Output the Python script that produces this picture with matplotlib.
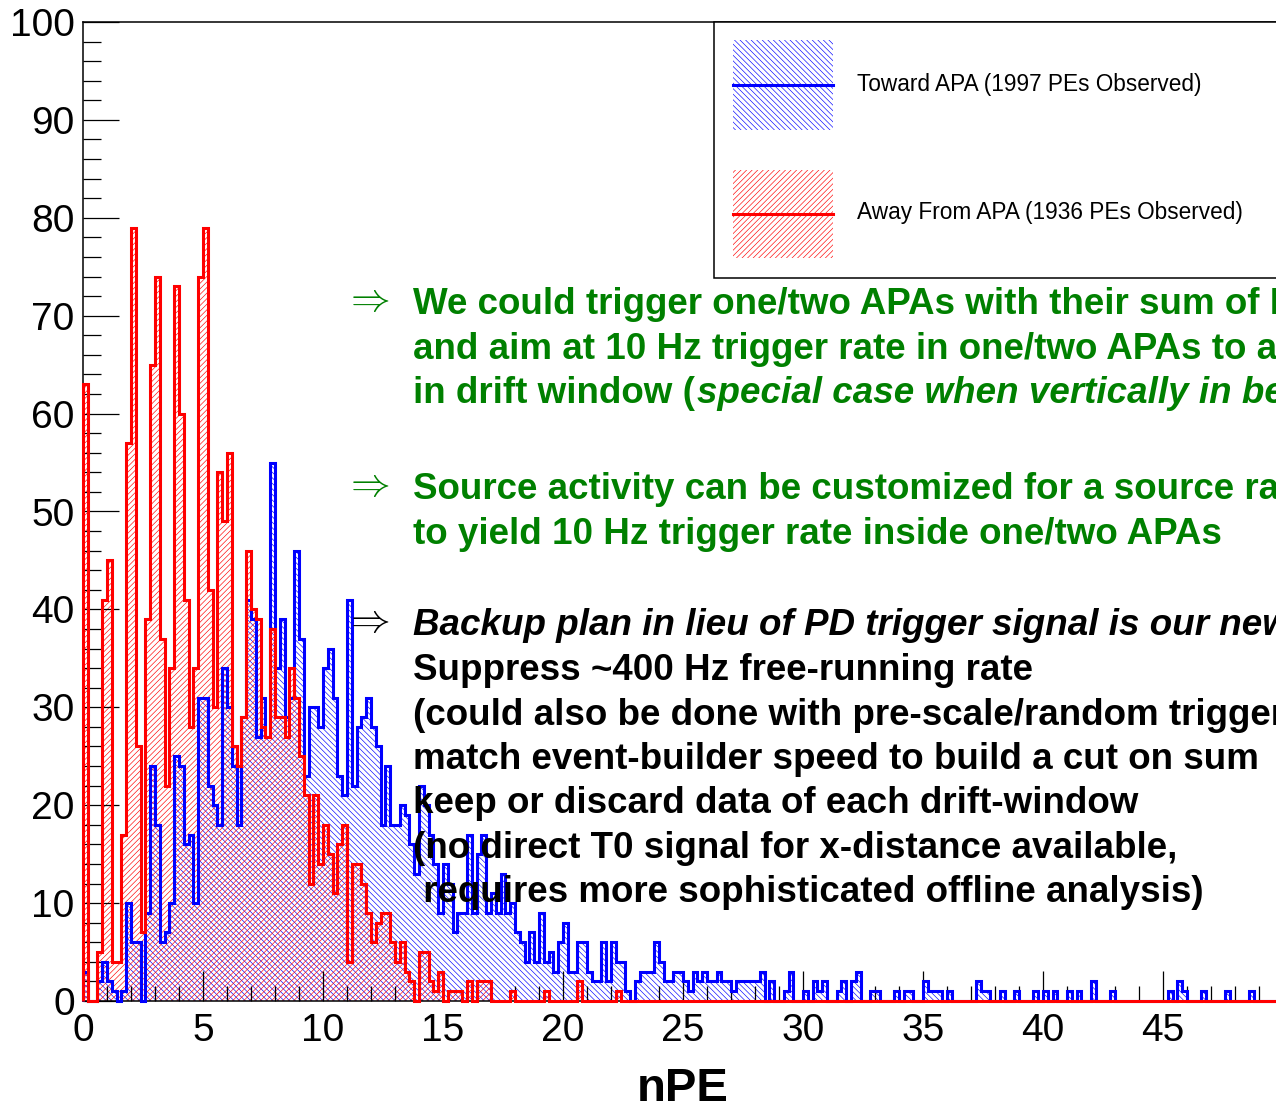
import numpy as np
import matplotlib
matplotlib.use("Agg")
import matplotlib.pyplot as plt
from matplotlib.patches import Rectangle
from matplotlib.lines import Line2D
from matplotlib.transforms import Affine2D

plt.rcParams['font.family'] = ['Liberation Sans', 'DejaVu Sans']
plt.rcParams['hatch.linewidth'] = 0.45

# nPE histograms, 250 bins of 0.2 from 0 to 50
bin_edges = np.linspace(0, 50, 251)

toward_apa = [
    3, 0, 0, 2, 4, 2, 1, 0, 1, 10,
    6, 6, 0, 9, 24, 18, 6, 7, 10, 25,
    24, 16, 17, 10, 31, 31, 22, 20, 18, 34,
    30, 24, 18, 29, 41, 39, 27, 31, 27, 55,
    34, 39, 29, 31, 46, 37, 23, 30, 30, 28,
    34, 36, 31, 23, 21, 41, 22, 28, 29, 31,
    28, 26, 18, 24, 18, 18, 20, 19, 16, 13,
    22, 20, 17, 14, 9, 14, 12, 7, 9, 9,
    17, 9, 15, 17, 9, 11, 9, 13, 9, 10,
    7, 6, 4, 7, 4, 9, 4, 5, 3, 6,
    8, 3, 3, 6, 6, 3, 2, 2, 6, 2,
    6, 4, 4, 1, 0, 2, 3, 3, 3, 6,
    4, 2, 2, 3, 3, 2, 1, 3, 2, 3,
    2, 2, 3, 2, 2, 1, 2, 2, 2, 2,
    2, 3, 0, 2, 0, 0, 1, 3, 0, 0,
    1, 0, 2, 1, 2, 0, 0, 1, 2, 0,
    2, 3, 0, 0, 1, 1, 0, 0, 0, 1,
    0, 1, 1, 0, 0, 2, 1, 1, 1, 0,
    1, 0, 0, 0, 0, 0, 2, 1, 1, 0,
    0, 1, 0, 0, 1, 0, 0, 0, 1, 0,
    1, 0, 1, 0, 0, 1, 0, 1, 0, 0,
    2, 0, 0, 0, 1, 0, 0, 0, 0, 0,
    0, 0, 0, 0, 0, 0, 1, 0, 2, 1,
    0, 0, 0, 1, 0, 0, 0, 0, 1, 0,
    0, 0, 0, 1, 0, 0, 0, 0, 0, 0,
]

away_apa = [
    63, 0, 0, 5, 41, 45, 4, 4, 17, 57,
    79, 26, 7, 39, 65, 74, 37, 22, 34, 73,
    60, 41, 28, 34, 74, 79, 42, 30, 54, 49,
    56, 26, 24, 29, 46, 40, 39, 28, 27, 38,
    29, 29, 27, 34, 31, 25, 21, 12, 21, 14,
    18, 15, 11, 16, 18, 4, 14, 14, 12, 9,
    6, 8, 9, 9, 6, 4, 6, 3, 2, 0,
    5, 5, 2, 1, 3, 0, 1, 1, 1, 0,
    2, 0, 2, 2, 2, 0, 0, 0, 0, 1,
    0, 0, 0, 0, 0, 0, 1, 0, 0, 0,
    0, 0, 0, 2, 0, 0, 0, 0, 0, 0,
    0, 1, 0, 0, 0, 0, 0, 0, 0, 0,
] + [0] * 130

legend_labels = ["Toward APA (1997 PEs Observed)",
                 "Away From APA (1936 PEs Observed)"]

W, H = 1276, 1104
fig = plt.figure(figsize=(W / 100, H / 100), dpi=100)
ax = fig.add_axes([83 / W, 103 / H, 1200 / W, 979 / H])

hatch_blue = '\\' * 6
hatch_red = '/' * 6

# hatched fills first, then outlines on top
ax.stairs(toward_apa, bin_edges, fill=True, hatch=hatch_blue, facecolor='none',
          edgecolor='blue', linewidth=0, zorder=1)
ax.stairs(away_apa, bin_edges, fill=True, hatch=hatch_red, facecolor='none',
          edgecolor='red', linewidth=0, zorder=1.1)
ax.stairs(toward_apa, bin_edges, color='blue', linewidth=2.2, baseline=0,
          zorder=3, clip_on=False)
ax.stairs(away_apa, bin_edges, color='red', linewidth=2.2, baseline=0,
          zorder=3.1, clip_on=False)

ax.set_xlim(0, 50)
ax.set_ylim(0, 100)
ax.set_xticks(np.arange(0, 50, 5))
ax.set_xticks(np.arange(0, 50, 1), minor=True)
ax.set_yticks(np.arange(0, 101, 10))
ax.set_yticks(np.arange(0, 101, 2), minor=True)
ax.tick_params(axis='both', which='both', direction='in', width=0.9,
               labelsize=28, colors='black')
ax.tick_params(axis='y', which='major', length=26, pad=6)
ax.tick_params(axis='y', which='minor', length=13)
ax.tick_params(axis='x', which='major', length=21.6, pad=8.5)
ax.tick_params(axis='x', which='minor', length=10.8)
for s in ax.spines.values():
    s.set_linewidth(1.1)

# pixel-coordinate transform for annotations
pix = Affine2D().scale(1 / W, -1 / H).translate(0, 1) + fig.transFigure

fig.text(683, 1101, "nPE", transform=pix, fontsize=34, fontweight='bold',
         ha='center', va='baseline')

# legend box (ROOT style)
fig.add_artist(Rectangle((714, 22), 620, 256, transform=pix, facecolor='white',
                         edgecolor='black', linewidth=1.1, zorder=5))
fig.add_artist(Rectangle((733, 40), 100, 90, transform=pix, facecolor='none',
                         edgecolor='blue', hatch=hatch_blue, linewidth=0, zorder=6))
fig.add_artist(Rectangle((733, 170), 100, 88, transform=pix, facecolor='none',
                         edgecolor='red', hatch=hatch_red, linewidth=0, zorder=6))
fig.add_artist(Line2D([733, 833], [85, 85], transform=pix, color='blue',
                      linewidth=2.2, zorder=7))
fig.add_artist(Line2D([733, 833], [214, 214], transform=pix, color='red',
                      linewidth=2.2, zorder=7))
fig.text(857, 84, legend_labels[0], transform=pix, fontsize=16.3, va='center',
         zorder=8)
fig.text(857, 213, legend_labels[1], transform=pix, fontsize=16.3, va='center',
         zorder=8)

green = '#008000'
renderer = fig.canvas.get_renderer()

def line(y, s, color, style='normal', x=413):
    return fig.text(x, y, s, transform=pix, fontsize=26.5, fontweight='bold',
                    fontstyle=style, color=color, va='baseline', zorder=10)

def arrow(y, color):
    # thin double arrow like the Symbol-font one in the slide
    fig.text(344, y + 10, r"$\Rightarrow$", transform=pix, fontsize=28.5,
             color=color, math_fontfamily='cm', va='baseline', zorder=10)

arrow(301, green)
line(314, "We could trigger one/two APAs with their sum of PEs", green)
line(359, "and aim at 10 Hz trigger rate in one/two APAs to achieve", green)
t = line(403, "in drift window (", green)
x_end = t.get_window_extent(renderer=renderer).x1
line(403, "special case when vertically in beam)", green, style='italic',
     x=x_end + 2)

arrow(486, green)
line(499, "Source activity can be customized for a source rate", green)
line(544, "to yield 10 Hz trigger rate inside one/two APAs", green)

arrow(622, 'black')
line(635, "Backup plan in lieu of PD trigger signal is our new", 'black',
     style='italic')
line(680, "Suppress ~400 Hz free-running rate", 'black')
line(725, "(could also be done with pre-scale/random trigger)", 'black')
line(769, "match event-builder speed to build a cut on sum", 'black')
line(813, "keep or discard data of each drift-window", 'black')
line(858, "(no direct T0 signal for x-distance available,", 'black')
line(902, " requires more sophisticated offline analysis)", 'black')

fig.savefig("out.png", dpi=100)
